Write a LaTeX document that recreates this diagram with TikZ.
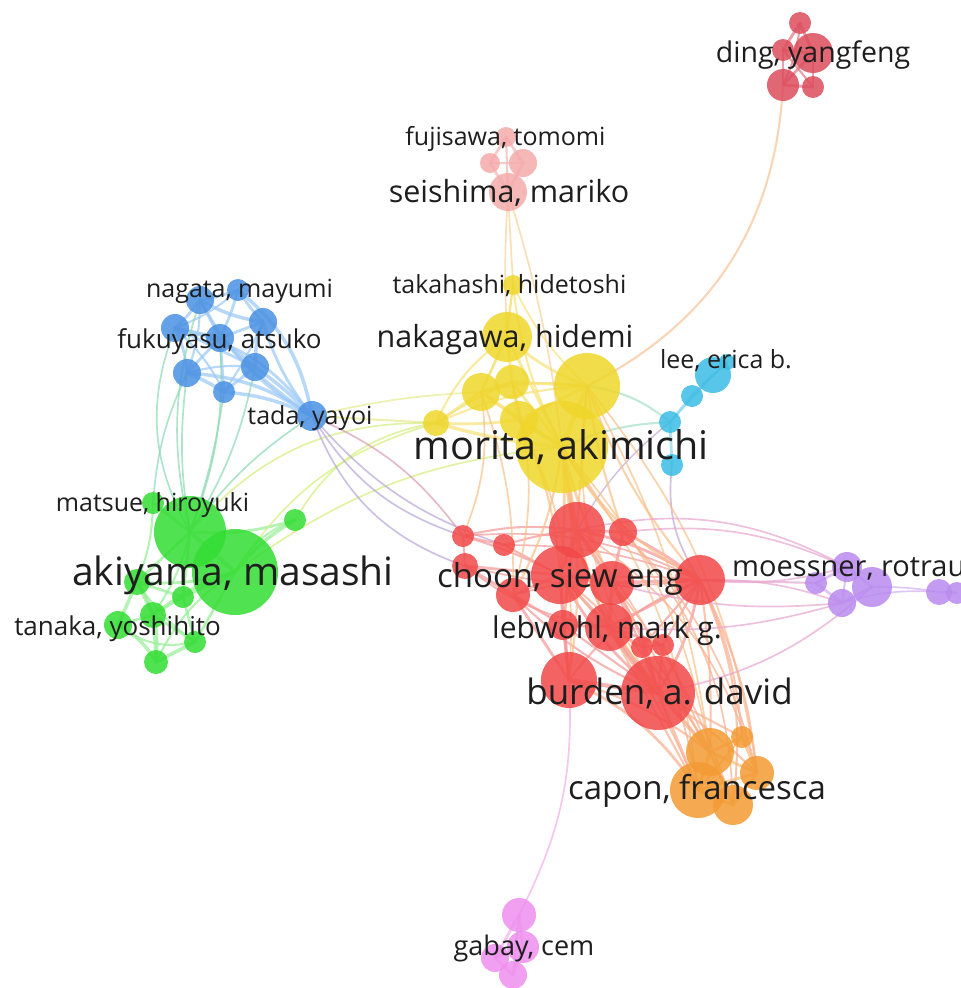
\documentclass[tikz,border=0pt]{standalone}
\usepackage{fontspec}
\setmainfont{Open Sans}
\pgfdeclarelayer{edgelayer}
\pgfsetlayers{edgelayer,main}
\definecolor{cg}{HTML}{33DD33}
\definecolor{cb}{HTML}{4A90E2}
\definecolor{cy}{HTML}{EFD62A}
\definecolor{cr}{HTML}{F24848}
\definecolor{cc}{HTML}{3BBCE4}
\definecolor{co}{HTML}{F39A33}
\definecolor{cp}{HTML}{F4AAAA}
\definecolor{cd}{HTML}{DD4C5C}
\definecolor{cu}{HTML}{B98AEF}
\definecolor{cm}{HTML}{EE8EEE}
\definecolor{txt}{HTML}{1E1E1E}
\tikzset{
  bub/.style={circle, inner sep=0pt, outer sep=0pt, fill opacity=0.85},
  lab/.style={anchor=mid, inner sep=0pt, text=txt},
  ebase/.style={draw opacity=0.72, line cap=round},
}
\definecolor{xB}{HTML}{9DC9F5}
\definecolor{xG}{HTML}{98EE98}
\definecolor{xT}{HTML}{8ED9B5}
\definecolor{xL}{HTML}{D2EE80}
\definecolor{xBY}{HTML}{E6EA90}
\definecolor{xBR}{HTML}{B9A8D8}
\definecolor{xBP}{HTML}{D8A0B0}
\definecolor{xY}{HTML}{F5E27A}
\definecolor{xPY}{HTML}{F5D29A}
\definecolor{xD}{HTML}{E47A86}
\definecolor{xDY}{HTML}{F7C49A}
\definecolor{xP}{HTML}{F5B7B7}
\definecolor{xC}{HTML}{8ED8F0}
\definecolor{xCY}{HTML}{A8E0C8}
\definecolor{xCR}{HTML}{C0A8D0}
\definecolor{xR}{HTML}{F49A9A}
\definecolor{xYR}{HTML}{F8C08A}
\definecolor{xRO}{HTML}{F8B090}
\definecolor{xO}{HTML}{F8BD7A}
\definecolor{xRU}{HTML}{E8A8D0}
\definecolor{xU}{HTML}{D4B0F4}
\definecolor{xM}{HTML}{F3B0E8}
\newcommand{\bubble}[5]{\node[bub, minimum size={2*#4}, fill=#5] (#1) at (#2,#3) {};}
\newcommand{\edges}[2]{\foreach \a/\b/\w/\d in {#2} \draw[ebase, draw=#1, line width={1.4*\w}] (\a.center) to[bend left=\d] (\b.center);}
\begin{document}
\begin{tikzpicture}[x=1pt, y=-1pt]
\useasboundingbox (0,0) rectangle (961,988);
% green
\bubble{g1}{190}{532}{36}{cg}
\bubble{g2}{235}{572}{43}{cg}
\bubble{g3}{153}{503}{11}{cg}
\bubble{g4}{295}{520}{11}{cg}
\bubble{g5}{137}{582}{13}{cg}
\bubble{g6}{183}{597}{11}{cg}
\bubble{g7}{118}{625}{14}{cg}
\bubble{g8}{153}{615}{13}{cg}
\bubble{g9}{195}{642}{11}{cg}
\bubble{g10}{156}{662}{12}{cg}
% blue
\bubble{b1}{238}{290}{11}{cb}
\bubble{b2}{200}{300}{14}{cb}
\bubble{b3}{175}{328}{14}{cb}
\bubble{b4}{263}{322}{14}{cb}
\bubble{b5}{220}{338}{14}{cb}
\bubble{b6}{187}{373}{14}{cb}
\bubble{b7}{255}{367}{14}{cb}
\bubble{b8}{224}{392}{11}{cb}
\bubble{b9}{312}{416}{15}{cb}
% yellow
\bubble{y1}{436}{423}{13}{cy}
\bubble{y2}{513}{285}{10}{cy}
\bubble{y3}{507}{337}{25}{cy}
\bubble{y4}{481}{392}{19}{cy}
\bubble{y5}{512}{382}{17}{cy}
\bubble{y6}{587}{386}{33}{cy}
\bubble{y7}{519}{420}{19}{cy}
\bubble{y8}{562}{447}{46}{cy}
% cyan
\bubble{c1}{713}{375}{18}{cc}
\bubble{c2}{727}{362}{8}{cc}
\bubble{c3}{692}{396}{11}{cc}
\bubble{c4}{670}{422}{11}{cc}
\bubble{c5}{672}{465}{11}{cc}
% red
\bubble{r1}{463}{536}{11}{cr}
\bubble{r2}{504}{545}{11}{cr}
\bubble{r3}{577}{530}{28}{cr}
\bubble{r4}{623}{532}{14}{cr}
\bubble{r5}{465}{566}{13}{cr}
\bubble{r6}{560}{575}{29}{cr}
\bubble{r7}{612}{583}{22}{cr}
\bubble{r8}{700}{580}{25}{cr}
\bubble{r9}{513}{595}{17}{cr}
\bubble{r10}{563}{625}{15}{cr}
\bubble{r11}{609}{627}{24}{cr}
\bubble{r12}{642}{647}{11}{cr}
\bubble{r13}{663}{645}{11}{cr}
\bubble{r14}{569}{680}{28}{cr}
\bubble{r15}{658}{693}{37}{cr}
% orange
\bubble{o1}{710}{752}{24}{co}
\bubble{o2}{742}{737}{11}{co}
\bubble{o3}{757}{773}{17}{co}
\bubble{o4}{698}{790}{28}{co}
\bubble{o5}{733}{805}{20}{co}
% pink top
\bubble{p1}{506}{137}{10}{cp}
\bubble{p2}{490}{163}{10}{cp}
\bubble{p3}{523}{163}{14}{cp}
\bubble{p4}{508}{192}{19}{cp}
% ding
\bubble{d1}{800}{23}{11}{cd}
\bubble{d2}{783}{50}{11}{cd}
\bubble{d3}{813}{53}{20}{cd}
\bubble{d4}{783}{85}{16}{cd}
\bubble{d5}{813}{87}{11}{cd}
% purple
\bubble{u1}{816}{583}{11}{cu}
\bubble{u2}{847}{567}{15}{cu}
\bubble{u3}{872}{587}{20}{cu}
\bubble{u4}{842}{603}{14}{cu}
\bubble{u5}{939}{592}{13}{cu}
\bubble{u6}{957}{593}{11}{cu}
% gabay
\bubble{m1}{519}{915}{17}{cm}
\bubble{m2}{523}{947}{16}{cm}
\bubble{m3}{495}{958}{14}{cm}
\bubble{m4}{513}{975}{14}{cm}

\begin{pgfonlayer}{edgelayer}
\edges{xB}{b1/b2/2/5, b1/b3/1.5/10, b1/b4/2/-5, b1/b5/2/5, b1/b9/2.5/20, b2/b3/2/5, b2/b4/2.5/-10, b2/b5/2/0, b2/b6/1.5/10, b2/b9/2/-15, b3/b5/2.5/0, b3/b6/2/10, b3/b7/2/0, b3/b8/1.5/10, b3/b9/2/20, b4/b5/2/0, b4/b7/2.5/-10, b4/b9/2/-10, b5/b6/2/0, b5/b7/2.5/0, b5/b8/2/0, b5/b9/2/-5, b6/b8/2.5/5, b6/b9/2.5/15, b7/b8/2/0, b7/b9/2.5/5, b8/b9/2.5/10, b6/b7/1.5/10, b4/b8/1.5/5}
\edges{xG}{g1/g2/3/0, g1/g3/2/0, g1/g4/2/-10, g2/g4/2.5/10, g2/g4/1.5/20, g1/g5/2/0, g1/g6/2/0, g1/g8/1.5/10, g2/g5/2/10, g2/g6/2.5/0, g2/g8/2/-10, g2/g9/2/0, g2/g10/1.5/-15, g5/g6/2/0, g5/g7/2.5/0, g5/g8/2.5/0, g6/g8/2/0, g7/g8/2/0, g7/g10/2.5/15, g8/g10/2/0, g8/g9/2/0, g9/g10/2.5/0, g6/g9/2/0, g5/g10/2/20, g7/g9/1.5/-25, g5/g9/1.5/-10, g3/g5/1.5/10}
\edges{xT}{g1/b3/1.2/25, g1/b2/1.2/15, g1/b6/1.2/8, g1/b5/1.2/-12, g1/b8/1.2/-5, g1/b9/1.2/10, g3/b6/1.2/10, g1/b7/1.2/-10}
\edges{xL}{g1/y1/1.2/25, g2/y1/1.2/20, g4/y1/1.2/25, g2/y8/1.2/15}
\edges{xBY}{b9/y1/1.5/0, b9/y4/1.2/5}
\edges{xBR}{b9/r1/1.2/-20, b9/r5/1.2/-25, b9/r2/1.2/-15}
\edges{xBP}{b9/r1/1.2/15}
\edges{xY}{y1/y4/2/0, y1/y7/2/-5, y1/y8/2.5/-5, y1/y3/1.5/15, y1/y5/1.5/5, y2/y3/1.5/0, y2/y8/1.5/-10, y2/y4/1.2/10, y3/y4/2/0, y3/y5/2/0, y3/y6/2/-10, y3/y8/2/0, y4/y5/2/0, y4/y7/2/0, y4/y8/2/0, y5/y6/2/0, y5/y7/2/0, y5/y8/2/0, y6/y7/2/0, y6/y8/3/0, y7/y8/3/0, y1/y6/1.5/10, y2/y6/1.2/-10, y4/y6/1.5/10}
\edges{xPY}{p4/y3/1.2/-3, p4/y8/1.2/5, p4/y2/1.2/0}
\edges{xD}{d1/d2/2/0, d1/d3/2/0, d2/d3/2/0, d2/d4/2/0, d3/d4/2/0, d3/d5/2/0, d4/d5/2/0, d2/d5/1.5/0, d1/d4/1.5/10}
\edges{xDY}{d4/y6/1.5/30}
\edges{xP}{p1/p2/2/0, p1/p3/2/0, p2/p3/2/0, p2/p4/2/0, p3/p4/2/0, p1/p4/1.5/0}
\edges{xC}{c1/c2/2/0, c1/c3/2/0, c3/c4/2/0, c4/c5/2/0, c1/c4/1.5/0, c2/c3/1.5/0}
\edges{xCY}{y6/c4/1.5/15, y8/c4/1.5/10}
\edges{xCR}{c5/r8/1.2/-20, c4/r3/1/-10}
\edges{xR}{r1/r2/1.5/0, r1/r3/1.5/10, r1/r6/1.5/5, r2/r3/1.5/5, r2/r6/1.5/0, r3/r4/2/0, r3/r6/2.5/0, r3/r7/2.5/0, r3/r8/2/10, r4/r7/2/0, r4/r8/2/5, r5/r6/2/0, r5/r9/2/0, r6/r7/3/0, r6/r9/2/0, r6/r10/2/0, r6/r11/2/0, r6/r14/2/0, r7/r8/2.5/0, r7/r11/2.5/0, r7/r15/2/10, r8/r11/2/0, r8/r15/2/10, r9/r10/2/0, r9/r14/2/0, r10/r11/2/0, r10/r14/2/0, r11/r12/2/0, r11/r13/2/0, r11/r15/2.5/0, r12/r15/2/0, r13/r15/2/0, r14/r15/3/0, r6/r15/2/-10, r3/r15/2/-15, r8/r14/1.5/-15, r1/r8/1.2/15, r2/r8/1.2/10, r5/r8/1.2/-10, r9/r8/1.2/10, r3/r14/1.5/-10, r5/r11/1.2/-15, r1/r5/1.5/0, r9/r15/1.5/-10, r10/r15/1.5/0, r12/r13/1.5/0, r7/r12/1.5/0, r8/r12/1.5/0, r8/r13/1.5/0}
\edges{xYR}{y8/r3/2.5/0, y8/r6/2/5, y8/r7/2/-5, y8/r8/1.5/-15, y8/r11/1.5/-10, y8/r14/1.5/10, y8/r15/1.5/-15, y6/r3/1.5/0, y6/r8/1.5/-10, y6/r4/1.5/-5, y7/r6/1.5/10, y4/r1/1.2/15, y8/r4/1.5/-5, y6/r15/1.2/-20, y5/r9/1.2/15, y8/r9/1.5/10, y8/r10/1.2/10, y7/r14/1.2/15, y4/r9/1.2/10}
\edges{xYR}{y8/o1/1.2/15, y8/o4/1.2/15, y6/o3/1.2/15, y6/o1/1.2/10}
\edges{xRO}{r15/o1/2/0, r15/o4/2/0, r15/o2/1.5/0, r15/o3/1.5/5, r14/o4/2/15, r14/o1/1.5/10, r8/o1/1.5/5, r8/o3/1.5/10, r8/o2/1.5/10, r8/o5/1.5/15, r4/o3/1.2/15, r6/o1/1.5/10, r3/o4/1.2/15, r7/o1/1.5/0, r11/o4/1.5/0, r11/o1/1.5/0, r13/o1/1.2/0, r3/o3/1.2/20, r7/o5/1.2/10, r4/o5/1.2/20, r6/o4/1.2/10}
\edges{xO}{o1/o2/2/0, o1/o3/2/0, o1/o4/2.5/0, o1/o5/2/0, o2/o3/2/0, o3/o4/2/0, o3/o5/2/0, o4/o5/2/0, o2/o4/1.5/0}
\edges{xRU}{u1/r8/1.5/0, u2/r8/1.2/10, u4/r8/1.2/-10, u2/r4/1.2/-15, u2/r3/1.2/-20, u4/r11/1.2/10, u4/r7/1.2/10, u3/r15/1.2/15}
\edges{xU}{u1/u2/2/0, u1/u4/2/0, u2/u3/2/0, u3/u4/2/0, u2/u4/1.5/0, u3/u5/1.2/5, u5/u6/2/0, u4/u5/1.2/10}
\edges{xM}{m1/m2/2/0, m1/m3/2/0, m2/m3/2/0, m2/m4/2/0, m3/m4/2/0, m1/m4/1.5/0, m1/r14/1.2/-15}
\end{pgfonlayer}

% labels
\node[lab, font=\fontsize{39}{39}\selectfont] (lakiyama) at (233,583) {akiyama, masashi};
\node[lab, font=\fontsize{39.5}{39.5}\selectfont] (lmorita) at (561.5,457) {morita, akimichi};
\node[lab, font=\fontsize{35}{35}\selectfont] (lburden) at (659.5,702) {burden, a. david};
\node[lab, font=\fontsize{33}{33}\selectfont] (lchoon) at (560,585) {choon, siew eng};
\node[lab, font=\fontsize{33}{33}\selectfont] (lcapon) at (697,797) {capon, francesca};
\node[lab, font=\fontsize{30.5}{30.5}\selectfont] (lnakagawa) at (505,345) {nakagawa, hidemi};
\node[lab, font=\fontsize{30.5}{30.5}\selectfont] (lseishima) at (509,200) {seishima, mariko};
\node[lab, font=\fontsize{30}{30}\selectfont] (llebwohl) at (607,636) {lebwohl, mark g.};
\node[lab, font=\fontsize{28.5}{28.5}\selectfont] (lding) at (813,60) {ding, yangfeng};
\node[lab, font=\fontsize{29}{29}\selectfont, anchor=mid west] (lmoessner) at (732,574) {moessner, rotraut};
\node[lab, font=\fontsize{27}{27}\selectfont] (lgabay) at (524,953) {gabay, cem};
\node[lab, font=\fontsize{26}{26}\selectfont] (lfukuyasu) at (219.5,346) {fukuyasu, atsuko};
\node[lab, font=\fontsize{26}{26}\selectfont] (ltanaka) at (117.5,633) {tanaka, yoshihito};
\node[lab, font=\fontsize{25}{25}\selectfont] (lnagata) at (239.5,295) {nagata, mayumi};
\node[lab, font=\fontsize{25}{25}\selectfont] (ltakahashi) at (509.5,291) {takahashi, hidetoshi};
\node[lab, font=\fontsize{25}{25}\selectfont] (lfujisawa) at (505.5,143) {fujisawa, tomomi};
\node[lab, font=\fontsize{25}{25}\selectfont] (lmatsue) at (152.5,509) {matsue, hiroyuki};
\node[lab, font=\fontsize{25}{25}\selectfont] (ltada) at (310,422) {tada, yayoi};
\node[lab, font=\fontsize{25}{25}\selectfont] (llee) at (726,366) {lee, erica b.};
\end{tikzpicture}
\end{document}
